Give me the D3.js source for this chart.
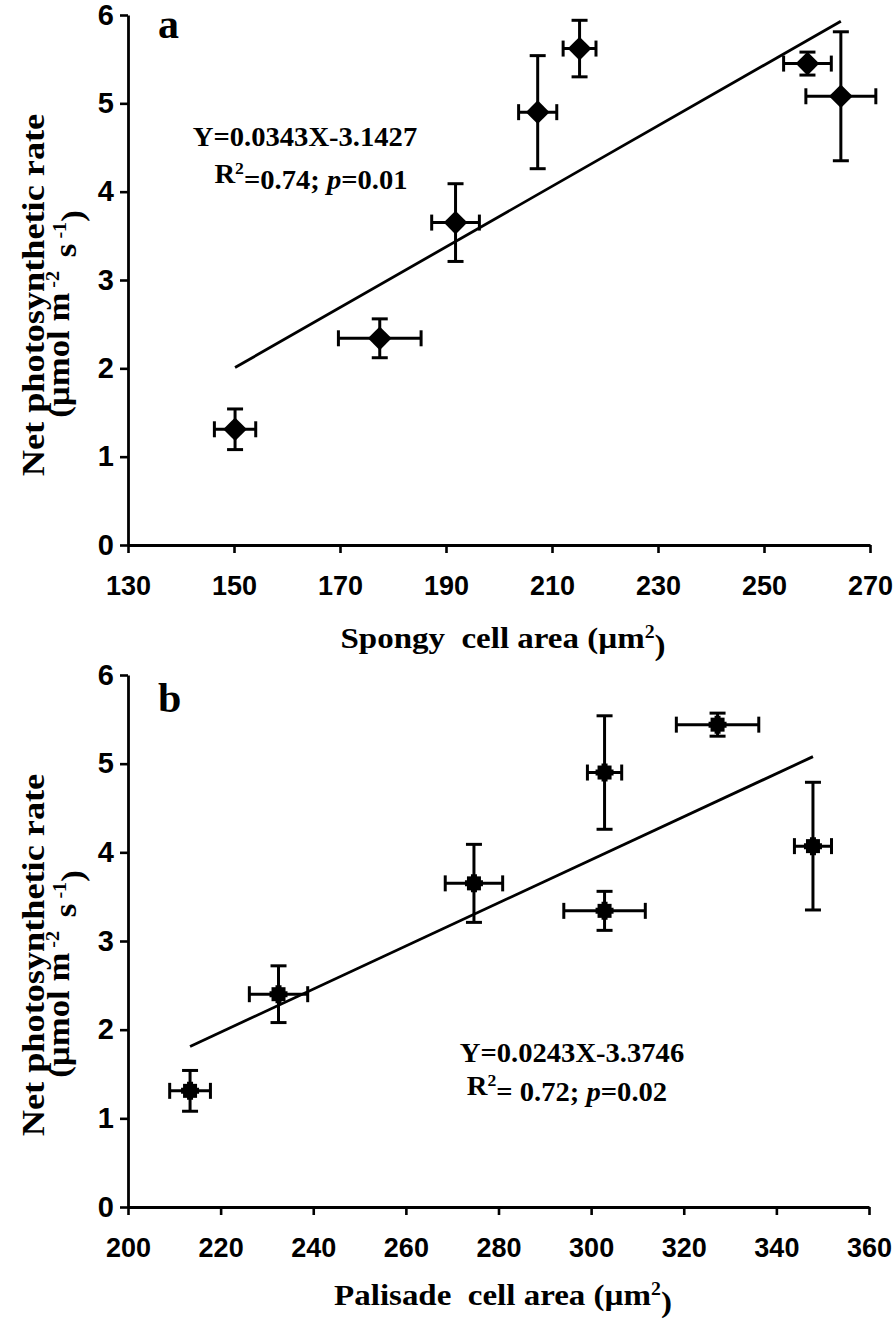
<!DOCTYPE html>
<html>
<head>
<meta charset="utf-8">
<script src="https://cdn.jsdelivr.net/npm/d3@7"></script>
<style>
  html, body { margin: 0; padding: 0; background: #fff; }
  svg { display: block; }
</style>
</head>
<body>
<svg id="chart" width="894" height="1324"></svg>
<script>
// ---------- DATA ----------
// Panel a: spongy cell area vs net photosynthetic rate
const spongyArea     = [150.2, 177.5, 191.8, 207.3, 215.2, 258.2, 264.5];
const spongyAreaErr  = [3.9, 7.8, 4.5, 3.6, 3.1, 4.5, 6.6];
const rateA          = [1.31, 2.34, 3.65, 4.90, 5.62, 5.45, 5.08];
const rateAErr       = [0.23, 0.22, 0.44, 0.64, 0.32, 0.13, 0.73];
const fitA           = { slope: 0.0343, intercept: -3.1427 };
const spongyTicks    = [130, 150, 170, 190, 210, 230, 250, 270];

// Panel b: palisade cell area vs net photosynthetic rate
const palisadeArea    = [213.4, 232.5, 274.7, 302.9, 302.9, 327.3, 347.9];
const palisadeAreaErr = [4.4, 6.3, 6.2, 3.7, 8.8, 8.9, 4.0];
const rateB           = [1.31, 2.40, 3.65, 4.90, 3.34, 5.44, 4.07];
const rateBErr        = [0.23, 0.32, 0.44, 0.64, 0.22, 0.13, 0.72];
const fitB            = { slope: 0.0243, intercept: -3.3746 };
const palisadeTicks   = [200, 220, 240, 260, 280, 300, 320, 340, 360];

const rateTicks = [0, 1, 2, 3, 4, 5, 6];

// ---------- DRAW ----------
const svg = d3.select("#chart");
svg.append("rect").attr("width", 894).attr("height", 1324).attr("fill", "#fff");

const SERIF = "'Liberation Serif', 'Times New Roman', serif";
const SANS = "'Liberation Sans', Arial, sans-serif";

function drawPanel(cfg) {
  const x = d3.scaleLinear().domain(cfg.xDomain).range(cfg.xRange);
  const y = d3.scaleLinear().domain([0, 6]).range(cfg.yRange);
  const g = svg.append("g");

  // axes
  const yAxis = g.append("g")
    .attr("transform", `translate(${cfg.xRange[0]},0)`)
    .call(d3.axisLeft(y).tickValues(rateTicks).tickFormat(d3.format("d"))
      .tickSize(8).tickSizeOuter(0).tickPadding(4));
  const xAxis = g.append("g")
    .attr("transform", `translate(0,${cfg.yRange[0]})`)
    .call(d3.axisBottom(x).tickValues(cfg.xTicks).tickFormat(d3.format("d"))
      .tickSize(8).tickSizeOuter(0));
  [yAxis, xAxis].forEach(ax => {
    ax.selectAll("path.domain").attr("stroke", "#000").attr("stroke-width", 2.8);
    ax.selectAll(".tick line").attr("stroke", "#000").attr("stroke-width", 2.6);
    ax.selectAll(".tick text")
      .attr("fill", "#000")
      .style("font-family", SANS)
      .style("font-weight", "bold")
      .style("font-size", "29px");
  });
  yAxis.selectAll(".tick text").attr("x", -14);
  xAxis.selectAll(".tick text").attr("y", 50).attr("dy", 0).style("font-size", "27px");

  // regression line
  const xs = cfg.xs;
  const x0 = d3.min(xs), x1 = d3.max(xs);
  const lineData = [x0, x1].map(v => [v, cfg.fit.slope * v + cfg.fit.intercept]);
  g.append("path")
    .attr("d", d3.line().x(d => x(d[0])).y(d => y(d[1]))(lineData))
    .attr("stroke", "#000").attr("stroke-width", 2.8).attr("fill", "none");

  // error bars
  const cap = 8;
  const eb = g.append("g").attr("stroke", "#000").attr("stroke-width", 3).attr("fill", "none");
  xs.forEach((xv, i) => {
    const yv = cfg.ys[i], xe = cfg.xe[i], ye = cfg.ye[i];
    const px = x(xv), py = y(yv);
    const yt = y(yv + ye), yb = y(yv - ye);
    const xl = x(xv - xe), xr = x(xv + xe);
    eb.append("line").attr("x1", px).attr("x2", px).attr("y1", yt).attr("y2", yb);
    eb.append("line").attr("x1", px - cap).attr("x2", px + cap).attr("y1", yt).attr("y2", yt);
    eb.append("line").attr("x1", px - cap).attr("x2", px + cap).attr("y1", yb).attr("y2", yb);
    eb.append("line").attr("x1", xl).attr("x2", xr).attr("y1", py).attr("y2", py);
    eb.append("line").attr("x1", xl).attr("x2", xl).attr("y1", py - cap).attr("y2", py + cap);
    eb.append("line").attr("x1", xr).attr("x2", xr).attr("y1", py - cap).attr("y2", py + cap);
  });

  // markers
  const mk = g.append("g").attr("fill", "#000");
  xs.forEach((xv, i) => {
    const px = x(xv), py = y(cfg.ys[i]);
    if (cfg.marker === "diamond") {
      mk.append("path")
        .attr("d", d3.symbol().type(d3.symbolSquare).size(280)())
        .attr("transform", `translate(${px},${py}) rotate(45)`);
    } else {
      mk.append("path")
        .attr("d", d3.symbol().type(d3.symbolSquare).size(196)())
        .attr("transform", `translate(${px},${py})`);
      mk.append("path")
        .attr("d", d3.symbol().type(d3.symbolCross).size(180)())
        .attr("transform", `translate(${px},${py})`);
    }
  });

  // panel label
  g.append("text")
    .attr("x", cfg.label.x).attr("y", cfg.label.y)
    .style("font-family", SERIF).style("font-weight", "bold").style("font-size", "42px")
    .text(cfg.label.text);

  // y title
  g.append("text")
    .attr("transform", `translate(44,${cfg.yTitleC1}) rotate(-90) scale(1.17,1)`)
    .attr("text-anchor", "middle")
    .style("font-family", SERIF).style("font-weight", "bold").style("font-size", "31px")
    .text("Net photosynthetic rate");
  const yt2 = g.append("text")
    .attr("transform", `translate(69,${cfg.yTitleC2}) rotate(-90) scale(1.12,1)`)
    .attr("text-anchor", "middle")
    .style("font-family", SERIF).style("font-weight", "bold").style("font-size", "31px")
    .attr("xml:space", "preserve");
  yt2.append("tspan").text("(\u00b5mol m");
  yt2.append("tspan").attr("dy", "-0.55em").style("font-size", "18px").text(" -2 ");
  yt2.append("tspan").attr("dy", "0.55em").text(" s");
  yt2.append("tspan").attr("dy", "-0.55em").style("font-size", "18px").text(" -1");
  yt2.append("tspan").attr("dy", "0.55em").text(")");

  // x title
  const xt = g.append("text")
    .attr("transform", `translate(503,${cfg.xTitleY}) scale(1.1,1)`)
    .attr("text-anchor", "middle")
    .style("font-family", SERIF).style("font-weight", "bold").style("font-size", "30px")
    .attr("xml:space", "preserve");
  xt.append("tspan").text(cfg.xTitle + " (\u00b5m");
  xt.append("tspan").attr("dy", "-0.55em").style("font-size", "18px").text("2");
  xt.append("tspan").attr("dy", "0.55em").text(")");

  // equation
  g.append("text")
    .attr("transform", `translate(${cfg.eq.x1},${cfg.eq.y1}) scale(1.04,1)`)
    .attr("text-anchor", "middle")
    .style("font-family", SERIF).style("font-weight", "bold").style("font-size", "27.5px")
    .text(cfg.eq.line1);
  const e2 = g.append("text")
    .attr("transform", `translate(${cfg.eq.x2},${cfg.eq.y2}) scale(1.04,1)`)
    .attr("text-anchor", "middle")
    .style("font-family", SERIF).style("font-weight", "bold").style("font-size", "27.5px")
    .attr("xml:space", "preserve");
  e2.append("tspan").text("R");
  e2.append("tspan").attr("dy", "-0.55em").style("font-size", "17px").text("2");
  e2.append("tspan").attr("dy", "0.55em").text(cfg.eq.r2);
  e2.append("tspan").style("font-style", "italic").text("p");
  e2.append("tspan").text(cfg.eq.p);
}

drawPanel({
  xDomain: [130, 270], xRange: [128, 870], yRange: [545, 15],
  xTicks: spongyTicks,
  xs: spongyArea, xe: spongyAreaErr, ys: rateA, ye: rateAErr,
  fit: fitA, marker: "diamond",
  label: { text: "a", x: 158, y: 38 },
  yTitleC1: 295, yTitleC2: 314,
  xTitle: "Spongy  cell area", xTitleY: 648,
  eq: { line1: "Y=0.0343X-3.1427", x1: 305, y1: 146, x2: 311, y2: 183, r2: "=0.74; ", p: "=0.01" }
});

drawPanel({
  xDomain: [200, 360], xRange: [128, 869], yRange: [1207, 675],
  xTicks: palisadeTicks,
  xs: palisadeArea, xe: palisadeAreaErr, ys: rateB, ye: rateBErr,
  fit: fitB, marker: "square",
  label: { text: "b", x: 158, y: 712 },
  yTitleC1: 955, yTitleC2: 974,
  xTitle: "Palisade  cell area", xTitleY: 1305,
  eq: { line1: "Y=0.0243X-3.3746", x1: 572, y1: 1062, x2: 567, y2: 1095, r2: "= 0.72; ", p: "=0.02" }
});
</script>
</body>
</html>
